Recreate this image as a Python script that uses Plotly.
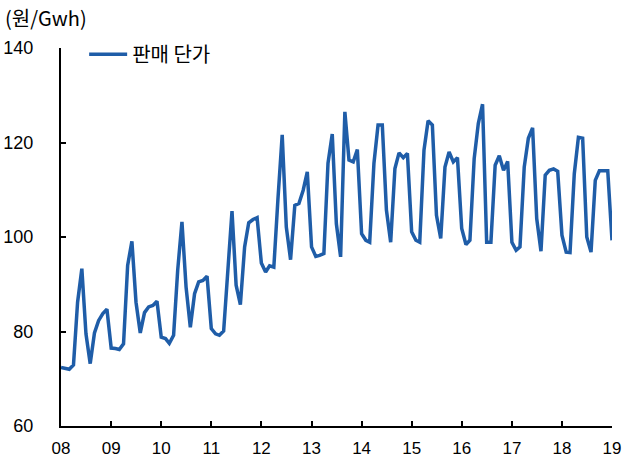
import pandas as pd
import plotly.graph_objects as go

# Monthly sales unit price (원/Gwh), Jan 2008 .. Jan 2019
start_month = "2008-01-01"
values = [
    72.4, 72.2, 72.0, 72.9, 86.2, 93.3, 79.5, 73.2, 79.7, 82.3, 83.8, 84.7,   # 2008
    76.5, 76.4, 76.2, 77.4, 94.0, 99.1, 86.2, 79.7, 84.0, 85.2, 85.5, 86.4,   # 2009
    78.8, 78.5, 77.5, 79.2, 93.0, 103.2, 89.4, 80.9, 88.0, 90.5, 90.8, 91.7,  # 2010
    80.6, 79.5, 79.2, 80.1, 93.6, 105.5, 89.8, 85.7, 97.9, 103.0, 103.7, 104.1,  # 2011
    94.5, 92.6, 93.9, 93.6, 108.0, 121.6, 102.1, 95.2, 106.7, 107.1, 109.9, 113.8,  # 2012
    97.9, 95.9, 96.1, 96.5, 115.6, 121.8, 102.8, 95.8, 126.5, 116.3, 115.9, 118.5,  # 2013
    100.7, 99.3, 98.9, 115.6, 123.7, 123.7, 105.7, 98.9, 114.5, 117.8, 116.8, 117.7,  # 2014
    101.1, 99.3, 98.9, 118.4, 124.6, 123.7, 104.6, 99.7, 114.8, 118.0, 115.9, 116.8,  # 2015
    101.8, 98.4, 99.3, 116.6, 124.0, 128.1, 98.9, 98.9, 115.2, 117.2, 114.1, 116.0,  # 2016
    98.9, 97.2, 97.9, 114.8, 120.9, 123.1, 103.9, 97.0, 113.1, 114.1, 114.4, 113.9,  # 2017
    100.4, 96.8, 96.7, 113.4, 121.1, 120.9, 100.0, 96.8, 112.0, 114.0, 114.0, 114.0,  # 2018
    99.3,  # 2019-01
]
months = pd.date_range(start_month, periods=len(values), freq="MS")

series_name = "판매 단가"
unit_label = "(원/Gwh)"
y_ticks = [60, 80, 100, 120, 140]

FONT = "Liberation Sans, Noto Sans CJK KR, sans-serif"
KFONT = "Noto Sans CJK KR, sans-serif"
LINE_COLOR = "#1F5DA8"

fig = go.Figure()
fig.add_trace(go.Scatter(
    x=months, y=values, mode="lines", name=series_name,
    line=dict(color=LINE_COLOR, width=3.5),
    showlegend=True,
))

fig.update_layout(
    width=624, height=459,
    margin=dict(l=61, r=12, t=48, b=33, autoexpand=False),
    paper_bgcolor="white", plot_bgcolor="white",
    font=dict(family=FONT, size=18, color="black"),
    showlegend=True,
    legend=dict(x=0.042, y=1.035, xanchor="left", yanchor="top",
                bgcolor="rgba(0,0,0,0)", font=dict(size=20, family=KFONT),
                itemwidth=38),
    annotations=[dict(
        text=unit_label, xref="paper", yref="paper",
        x=-0.106, y=1.08, xanchor="left", yanchor="middle",
        showarrow=False, font=dict(size=20, family=KFONT),
    )],
)

fig.update_xaxes(
    type="date",
    range=[months[0], months[-1]],
    tick0=start_month, dtick="M12", tickformat="%y",
    showline=True, linecolor="black", linewidth=2,
    ticks="inside", ticklen=5, tickwidth=1.5, tickcolor="black",
    showgrid=False, zeroline=False, automargin=False,
    ticklabelstandoff=6, tickfont=dict(size=17),
)
fig.update_yaxes(
    range=[60, 140], tickvals=y_ticks,
    showline=True, linecolor="black", linewidth=2,
    ticks="inside", ticklen=5, tickwidth=1.5, tickcolor="black",
    showgrid=False, zeroline=False, automargin=False,
    ticklabelstandoff=22,
)

fig.write_html("out.html")
